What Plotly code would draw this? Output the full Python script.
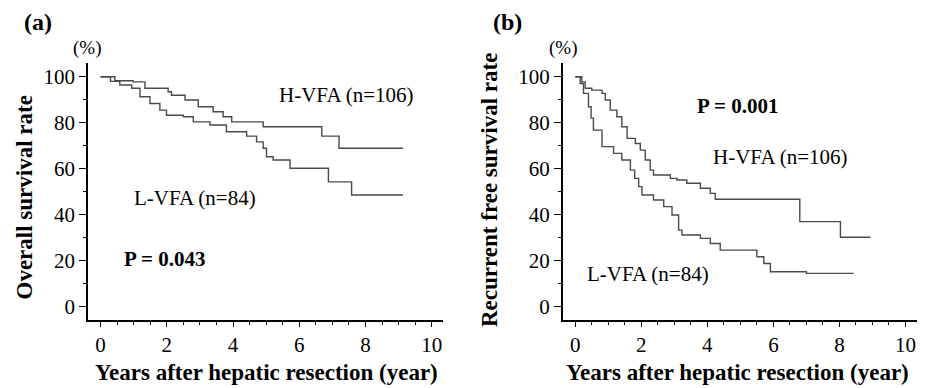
import plotly.graph_objects as go

# ---- data ----
a_h_years = [0, 0.43, 0.98, 1.34, 2.04, 2.14, 2.55, 2.95, 3.4, 3.7, 3.96, 4.91, 6.68, 7.2, 9.13]
a_h_surv = [100, 98.3, 97.8, 95, 93.5, 92, 89.9, 87, 84.8, 82.6, 80.4, 78.3, 74.2, 68.9, 68.9]

a_l_years = [0, 0.3, 0.58, 0.94, 1.19, 1.49, 1.79, 1.99, 2.5, 2.8, 3.3, 3.8, 4.41, 4.71, 4.91,
             5.01, 5.21, 5.72, 6.88, 7.58, 9.13]
a_l_surv = [100, 98, 96.4, 95, 91.3, 88.4, 85.5, 83.3, 82.6, 80.4, 79, 76.1, 74.2, 71.7, 68.9,
            65.2, 63.8, 60.2, 54.3, 48.6, 48.6]

b_h_years = [0, 0.2, 0.3, 0.5, 0.81, 0.91, 1.06, 1.26, 1.41, 1.57, 1.82, 1.97, 2.12, 2.27,
             2.37, 2.88, 3.08, 3.38, 3.79, 4.09, 4.24, 6.8, 8.03, 8.94]
b_h_surv = [100, 97.8, 95, 94.2, 92.8, 89.9, 85.5, 82.6, 78.3, 73.2, 71, 68.1, 63.8, 59.4,
            57.3, 55.8, 55.1, 53.7, 51.5, 49.3, 46.7, 37, 30.2, 30.2]

b_l_years = [0, 0.15, 0.25, 0.4, 0.48, 0.55, 0.81, 1.16, 1.41, 1.67, 1.8, 1.92, 2.02, 2.37,
             2.68, 2.93, 3.13, 3.23, 3.79, 4.09, 4.39, 5.5, 5.71, 5.91, 7.0, 8.43]
b_l_surv = [100, 97.1, 92.8, 87, 82, 76.8, 69.6, 66.7, 63.8, 59.4, 55.8, 52.2, 48.6, 46.4,
            43.5, 39.9, 33.3, 31.2, 29.7, 27.5, 24.6, 21.7, 18.8, 15.2, 14.5, 14.5]

x_ticks = [0, 2, 4, 6, 8, 10]
y_ticks = [0, 20, 40, 60, 80, 100]

W, H = 930, 388
SERIF = "Liberation Serif, Times New Roman, serif"
LINE = "#4a4a4a"

fig = go.Figure()
for xs, ys, xa, ya in [(a_h_years, a_h_surv, "x", "y"), (a_l_years, a_l_surv, "x", "y"),
                       (b_h_years, b_h_surv, "x2", "y2"), (b_l_years, b_l_surv, "x2", "y2")]:
    fig.add_trace(go.Scatter(x=xs, y=ys, mode="lines", line=dict(shape="hv", color=LINE, width=1.4),
                             xaxis=xa, yaxis=ya, hoverinfo="skip"))


def xaxis(domain, anchor):
    return dict(domain=domain, anchor=anchor, range=[-0.38, 10.34], tickvals=x_ticks,
                showgrid=False, zeroline=False, showline=True, linecolor="black", linewidth=1.5,
                ticks="outside", ticklen=5, tickwidth=1.2, tickcolor="black",
                minor=dict(dtick=0.5, tick0=0, ticks="outside", ticklen=3, tickwidth=1, tickcolor="black"),
                tickfont=dict(family=SERIF, size=21, color="black"), fixedrange=True)


def yaxis(anchor):
    return dict(domain=[68 / H, 1 - 63 / H], anchor=anchor, range=[-5.8, 106], tickvals=y_ticks,
                showgrid=False, zeroline=False, showline=True, linecolor="black", linewidth=1.5,
                ticks="outside", ticklen=7, tickwidth=1.2, tickcolor="black",
                minor=dict(dtick=10, tick0=0, ticks="outside", ticklen=3, tickwidth=1, tickcolor="black"),
                tickfont=dict(family=SERIF, size=21, color="black"), fixedrange=True)


ann = []


def paper_text(px, py, text, size, bold=False, angle=0):
    ann.append(dict(x=px / W, y=1 - py / H, xref="paper", yref="paper", text=f"<b>{text}</b>" if bold else text,
                    showarrow=False, textangle=angle, xanchor="center", yanchor="middle",
                    font=dict(family=SERIF, size=size, color="black")))


def data_text(x, y, xr, yr, text, size, bold=False):
    ann.append(dict(x=x, y=y, xref=xr, yref=yr, text=f"<b>{text}</b>" if bold else text,
                    showarrow=False, xanchor="center", yanchor="middle",
                    font=dict(family=SERIF, size=size, color="black")))


paper_text(38, 22, "(a)", 24, bold=True)
paper_text(507, 22, "(b)", 24, bold=True)
paper_text(87, 48, "(%)", 19)
paper_text(563, 48, "(%)", 19)
paper_text(23.5, 198, "Overall survival rate", 23, bold=True, angle=-90)
paper_text(489, 190, "Recurrent free survival rate", 23, bold=True, angle=-90)
paper_text(266, 372, "Years after hepatic resection (year)", 23, bold=True)
paper_text(737, 372, "Years after hepatic resection (year)", 23, bold=True)

data_text(7.44, 92, "x", "y", "H-VFA (n=106)", 21)
data_text(2.85, 47.3, "x", "y", "L-VFA (n=84)", 21)
data_text(1.94, 20.7, "x", "y", "P = 0.043", 21, bold=True)
data_text(4.91, 87.3, "x2", "y2", "P = 0.001", 21, bold=True)
data_text(6.21, 65.1, "x2", "y2", "H-VFA (n=106)", 21)
data_text(2.21, 14.2, "x2", "y2", "L-VFA (n=84)", 21)

fig.update_layout(
    width=W, height=H, margin=dict(l=0, r=0, t=0, b=0),
    paper_bgcolor="white", plot_bgcolor="white", showlegend=False, hovermode=False,
    xaxis=xaxis([88 / W, 443 / W], "y"), yaxis=yaxis("x"),
    xaxis2=xaxis([562.7 / W, 916.7 / W], "y2"), yaxis2=yaxis("x2"),
    annotations=ann,
)

fig.write_html("out.html", config={"displayModeBar": False})
